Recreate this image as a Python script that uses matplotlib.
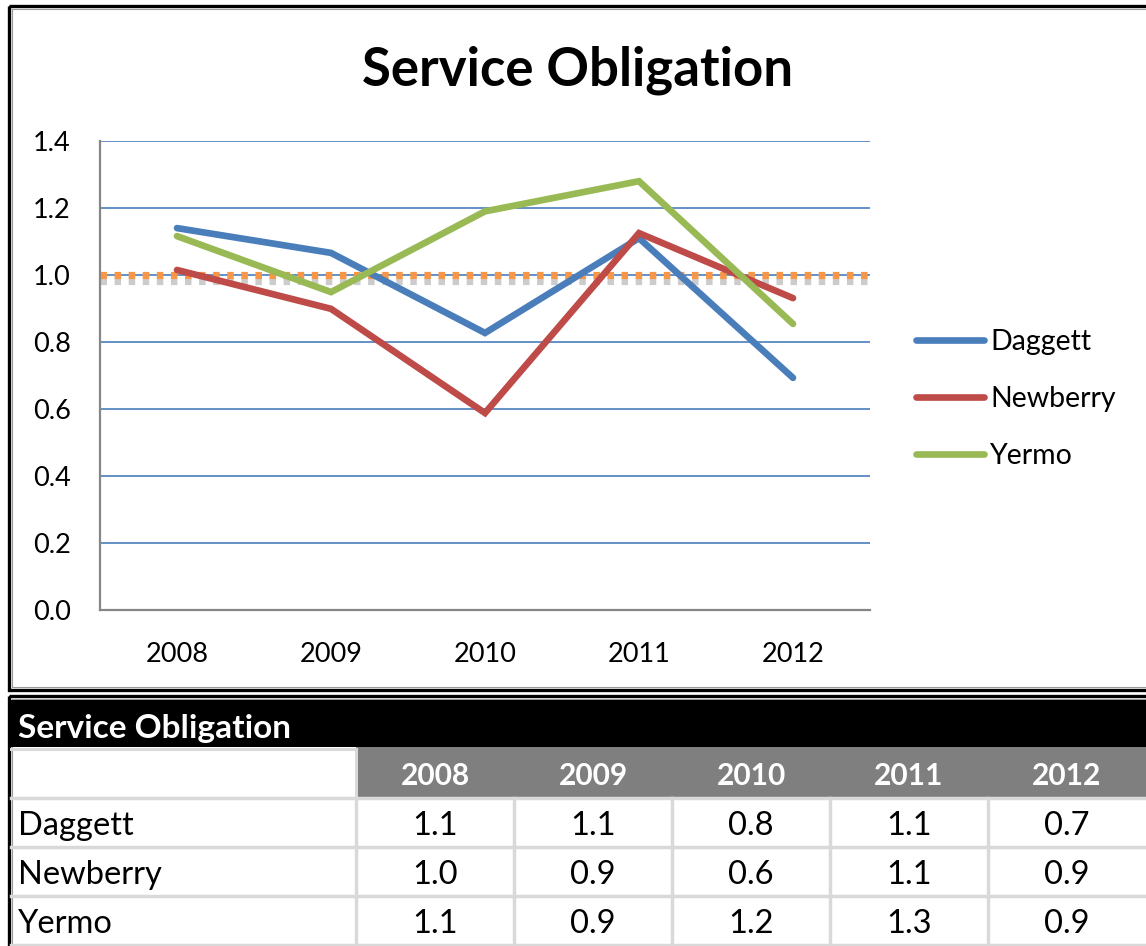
import matplotlib
matplotlib.use("Agg")
import matplotlib.pyplot as plt
import matplotlib.patheffects as pe
from matplotlib.patches import Rectangle

# ---- data ----
years = ["2008", "2009", "2010", "2011", "2012"]
series_names = ["Daggett", "Newberry", "Yermo"]
daggett = [1.14, 1.066, 0.827, 1.11, 0.693]
newberry = [1.015, 0.899, 0.588, 1.125, 0.931]
yermo = [1.116, 0.949, 1.19, 1.28, 0.854]
target = 1.0
yticks = [0.0, 0.2, 0.4, 0.6, 0.8, 1.0, 1.2, 1.4]
title = "Service Obligation"

colors = ["#4A7EBB", "#BE4B48", "#98B954"]
FONT = "Lato"
plt.rcParams["font.family"] = [FONT, "DejaVu Sans"]

W, H = 1146, 946
fig = plt.figure(figsize=(W / 100, H / 100), dpi=100)

# overlay axes in pixel coordinates for frames and table
ov = fig.add_axes([0, 0, 1, 1], zorder=0)
ov.set_xlim(0, W)
ov.set_ylim(H, 0)
ov.axis("off")

def px(l, t, r, b):
    return [l / W, 1 - b / H, (r - l) / W, (b - t) / H]

# chart frame
ov.add_patch(Rectangle((8.5, 6.5), W + 10, 683, fill=False, ec="black", lw=2.4))
ov.add_patch(Rectangle((11.5, 9.5), W + 10, 677, fill=False, ec="#9a9a9a", lw=0.8))
# table frame
ov.add_patch(Rectangle((8.5, 695.5), W + 10, 260, fill=False, ec="black", lw=2.4))
ov.add_patch(Rectangle((11.5, 698.5), W + 10, 260, fill=False, ec="#9a9a9a", lw=0.8))

# ---- chart ----
ax = fig.add_axes(px(100, 141, 870, 610), zorder=1)
ax.set_facecolor("none")
x = list(range(len(years)))
for name, vals, c in zip(series_names, [daggett, newberry, yermo], colors):
    ax.plot(x, vals, color=c, lw=4.8, solid_capstyle="round", solid_joinstyle="miter", label=name, zorder=3)

ax.set_xlim(-0.5, len(years) - 0.5)
ax.set_ylim(0, 1.4)
ax.set_yticks(yticks)
ax.set_yticklabels([f"{v:.1f}" for v in yticks])
ax.set_xticks(x)
ax.set_xticklabels(years)
ax.tick_params(axis="both", length=0, labelsize=19.5)
ax.tick_params(axis="y", pad=21)
ax.tick_params(axis="x", pad=23)
for v in yticks[1:]:
    ax.axhline(v, color="#4A7EBB", lw=1.2, zorder=1)
for s in ["top", "right"]:
    ax.spines[s].set_visible(False)
for s in ["left", "bottom"]:
    ax.spines[s].set_color("#868686")
    ax.spines[s].set_linewidth(1.6)

tl = ax.axhline(target, color="#F79646", lw=5.2, zorder=2)
tl.set_dashes((0.9, 1.05))
tl.set_dash_capstyle("butt")
tl.set_path_effects([pe.SimpleLineShadow(offset=(0, -4), shadow_color="black", alpha=0.2), pe.Normal()])

fig.text(578 / W, 1 - 70 / H, title, ha="center", va="center", fontsize=38, fontweight="bold")

leg = ax.legend(loc="center left", bbox_to_anchor=(916 / W, 1 - 399 / H), bbox_transform=fig.transFigure,
                frameon=False, fontsize=20.5, handlelength=2.4, handletextpad=0.2, labelspacing=1.1,
                borderaxespad=0, borderpad=0)

# ---- table ----
ov.add_patch(Rectangle((11, 700), W, 47, fc="black", ec="none"))
ov.text(18, 728, title, color="white", fontsize=24, fontweight="bold", va="center", ha="left")
col_left = 356
col_w = 158
row_top = 798
row_h = 49
ov.add_patch(Rectangle((col_left, 747), W - col_left, 51, fc="#7F7F7F", ec="none"))
for j, yr in enumerate(years):
    ov.text(col_left + col_w * (j + 0.5), 776, yr, color="white", fontsize=21.5, fontweight="bold",
            ha="center", va="center")
grid_c = "#D9D9D9"
ov.plot([11, col_left], [749, 749], color=grid_c, lw=2.2)
for i in range(4):
    yy = row_top + i * row_h
    ov.plot([11, W], [yy, yy], color=grid_c, lw=2.5)
for j in range(len(years)):
    xx = col_left + j * col_w
    ov.plot([xx, xx], [row_top, H], color=grid_c, lw=2.5)
ov.plot([col_left, col_left], [749, row_top], color=grid_c, lw=2.2)
for i, (name, vals) in enumerate(zip(series_names, [daggett, newberry, yermo])):
    cy = row_top + row_h * (i + 0.5) + 3
    ov.text(18, cy, name, fontsize=23.5, ha="left", va="center")
    for j, v in enumerate(vals):
        ov.text(col_left + col_w * (j + 0.5), cy, f"{v:.1f}", fontsize=23.5, ha="center", va="center")

fig.savefig("out.png", dpi=100, facecolor="white")
